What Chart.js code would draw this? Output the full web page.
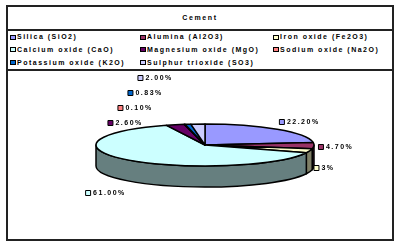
<!DOCTYPE html>
<html>
<head>
<meta charset="utf-8">
<script src="https://cdn.jsdelivr.net/npm/chart.js@4"></script>
<style>
body { margin: 0; background: #fff; font-family: "Liberation Sans", Arial, sans-serif; }
#frame { position: absolute; left: 6px; top: 5px; width: 388px; height: 236px; border: 2px solid #222; box-sizing: border-box; }
#title { position: absolute; left: 0; top: 0; width: 100%; height: 22px; line-height: 22px; text-align: center; font-weight: bold; font-size: 7px; letter-spacing: 1.6px; }
.sep { position: absolute; left: 0; width: 100%; height: 2px; background: #222; }
.item { position: absolute; font-weight: bold; font-size: 7px; letter-spacing: 1.5px; white-space: nowrap; line-height: 8px; }
.key { display: inline-block; width: 4px; height: 3px; border: 1px solid #000; margin-right: 1px; vertical-align: middle; }
#wrap { position: absolute; left: 0; top: 64px; width: 384px; height: 168px; }
</style>
</head>
<body>
<div id="frame">
  <div id="title">Cement</div>
  <div class="sep" style="top:22px"></div>
  <div id="legend"></div>
  <div class="sep" style="top:62px"></div>
  <div id="wrap"><canvas id="grafico" width="384" height="168"></canvas></div>
</div>
<script>
// dados do grafico
var categorias = ['Silica (SiO2)', 'Alumina (Al2O3)', 'Iron oxide (Fe2O3)', 'Calcium oxide (CaO)',
  'Magnesium oxide (MgO)', 'Sodium oxide (Na2O)', 'Potassium oxide (K2O)', 'Sulphur trioxide (SO3)'];
var valores = [22.2, 4.7, 3, 61, 2.6, 0.1, 0.83, 2];
var rotulos = ['22.20%', '4.70%', '3%', '61.00%', '2.60%', '0.10%', '0.83%', '2.00%'];
var cores = ['#9999ff', '#993366', '#ffffcc', '#ccffff', '#660066', '#ff8080', '#0066cc', '#ccccff'];

// legenda em 3 colunas
var legenda = document.getElementById('legend');
var colX = [2, 132, 265];
var linY = [26, 38.5, 51.5];
for (var i = 0; i < categorias.length; i++) {
  var el = document.createElement('div');
  el.className = 'item';
  el.style.left = colX[i % 3] + 'px';
  el.style.top = linY[Math.floor(i / 3)] + 'px';
  el.innerHTML = '<span class="key" style="background:' + cores[i] + '"></span>' + categorias[i];
  legenda.appendChild(el);
}

function escurece(hex) {
  var n = parseInt(hex.slice(1), 16);
  return 'rgb(' + ((n >> 16) >> 1) + ',' + (((n >> 8) & 255) >> 1) + ',' + ((n & 255) >> 1) + ')';
}

// desenha a pizza "3D" a partir dos arcos do Chart.js
var pie3d = {
  id: 'pie3d',
  beforeDatasetsDraw: function (chart, args, opts) {
    var ctx = chart.ctx;
    var arcs = chart.getDatasetMeta(0).data;
    if (!arcs.length) return false;
    var cx = arcs[0].x, cy = arcs[0].y, r = arcs[0].outerRadius;
    var rx = r * opts.stretch, ry = rx * opts.tilt, d = opts.depth;
    var cols = chart.data.datasets[0].backgroundColor;
    ctx.save();
    ctx.lineWidth = opts.lineWidth;
    ctx.strokeStyle = '#000';
    ctx.lineJoin = 'round';

    // lateral
    arcs.forEach(function (a, i) {
      var b0 = Math.max(a.startAngle, 0), b1 = Math.min(a.endAngle, Math.PI);
      if (b1 <= b0) return;
      ctx.beginPath();
      ctx.ellipse(cx, cy, rx, ry, 0, b0, b1);
      ctx.lineTo(cx + rx * Math.cos(b1), cy + d + ry * Math.sin(b1));
      ctx.ellipse(cx, cy + d, rx, ry, 0, b1, b0, true);
      ctx.closePath();
      ctx.fillStyle = escurece(cols[i]);
      ctx.fill();
      ctx.stroke();
    });

    // topo
    arcs.forEach(function (a, i) {
      ctx.beginPath();
      ctx.moveTo(cx, cy);
      ctx.ellipse(cx, cy, rx, ry, 0, a.startAngle, a.endAngle);
      ctx.closePath();
      ctx.fillStyle = cols[i];
      ctx.fill();
      ctx.stroke();
    });

    // rotulos
    ctx.font = opts.font;
    ctx.letterSpacing = opts.letterSpacing;
    ctx.textBaseline = 'middle';
    ctx.lineWidth = 1;
    var pilha = null;
    arcs.forEach(function (a, i) {
      var m = (a.startAngle + a.endAngle) / 2, c = Math.cos(m), s = Math.sin(m);
      var txt = opts.labels[i];
      var w = ctx.measureText(txt).width, full = 8 + w;
      var ax = c >= 0 ? cx + rx * c + 4 * c * c : cx + (rx + 2) * c;
      var ay = cy + (ry + 10) * s + (s > 0 ? d * Math.min(2.5 * s, 1.25) : 0);
      var left = c >= 0 ? ax : ax - full;
      var y = ay;
      if (s < 0 && c < 0 && a.circumference / (2 * Math.PI) < 0.04) {
        if (!pilha) pilha = { x: ax + opts.stackDx, y: ay + opts.stackDy, k: 0 };
        left = pilha.x + opts.stepX * pilha.k - full;
        y = pilha.y + opts.stepY * pilha.k;
        pilha.k++;
      }
      ctx.fillStyle = cols[i];
      ctx.fillRect(left + 0.5, Math.round(y) - 2.5, 5, 5);
      ctx.strokeRect(left + 0.5, Math.round(y) - 2.5, 5, 5);
      ctx.fillStyle = '#000';
      ctx.fillText(txt, left + 8, y);
    });
    ctx.restore();
    return false;
  }
};

var ctx = document.getElementById('grafico').getContext('2d');
var chart = new Chart(ctx, {
  type: 'pie',
  data: {
    labels: categorias,
    datasets: [{
      data: valores,
      backgroundColor: cores,
      borderWidth: 0
    }]
  },
  options: {
    responsive: false,
    animation: false,
    layout: { padding: { left: 10, right: 0, top: 0, bottom: 20 } },
    plugins: {
      legend: { display: false },
      tooltip: { enabled: false },
      pie3d: {
        stretch: 1.473, tilt: 0.193, depth: 21, lineWidth: 1.5,
        labels: rotulos,
        font: 'bold 7px "Liberation Sans", Arial, sans-serif',
        letterSpacing: '1.5px',
        stackDx: -32, stackDy: 8, stepX: 10, stepY: -15
      }
    }
  },
  plugins: [pie3d]
});
</script>
</body>
</html>
